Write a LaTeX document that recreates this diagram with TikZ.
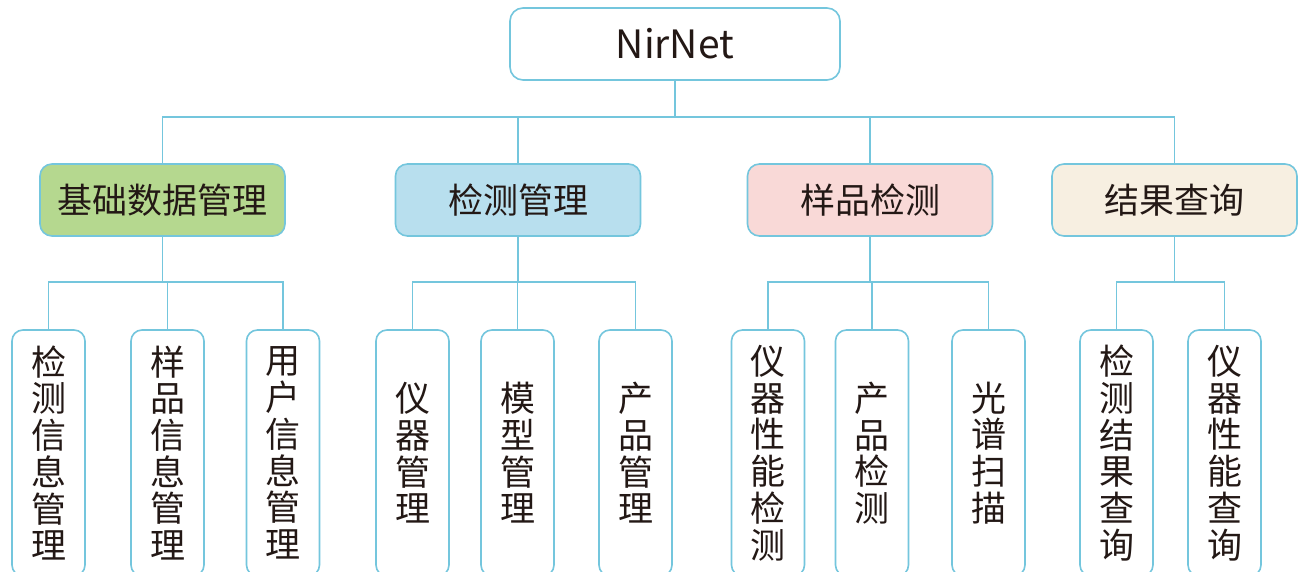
\documentclass[tikz,border=0pt]{standalone}
\usepackage{fontspec}
\newfontfamily\cjk{Noto Sans CJK SC}
\definecolor{lineblue}{HTML}{74C6DD}
\definecolor{fgreen}{HTML}{B5D88F}
\definecolor{fblue}{HTML}{B8DFEE}
\definecolor{fpink}{HTML}{F9D9D7}
\definecolor{fcream}{HTML}{F7EFE1}
\definecolor{ink}{HTML}{231815}
\begin{document}
\begin{tikzpicture}[x=1pt,y=-1pt,
  conn/.style={draw=lineblue,line width=1.6pt},
  rootbox/.style={draw=lineblue,line width=1.6pt,fill=white,rounded corners=13pt,
    minimum width=330pt,minimum height=72pt,inner sep=0pt,text=ink,
    font=\cjk\fontsize{39}{42}\selectfont},
  topbox/.style={draw=lineblue,line width=1.6pt,rounded corners=12pt,
    minimum width=245pt,minimum height=72pt,inner sep=0pt,text=ink,
    font=\cjk\fontsize{35}{38}\selectfont},
  leafbox/.style={draw=lineblue,line width=1.6pt,fill=white,rounded corners=11pt,
    minimum width=73pt,minimum height=246pt,inner sep=0pt,text=ink,align=center,
    font=\cjk\fontsize{35}{36.7}\selectfont}]
\useasboundingbox (0,0) rectangle (1298,571);
\fill[white] (0,0) rectangle (1298,571);
\coordinate (busA) at (0,117);
\coordinate (busB) at (0,282);

\node[rootbox] (root) at (675,44) {NirNet};

\node[topbox,fill=fgreen] (ta) at (162.5,200) {基础数据管理};
\node[topbox,fill=fblue]  (tb) at (518,200) {检测管理};
\node[topbox,fill=fpink]  (tc) at (870,200) {样品检测};
\node[topbox,fill=fcream] (td) at (1174.5,200) {结果查询};

\node[leafbox] (a1) at (48.5,453) {检\\测\\信\\息\\管\\理};
\node[leafbox] (a2) at (167.5,453) {样\\品\\信\\息\\管\\理};
\node[leafbox] (a3) at (283,453) {用\\户\\信\\息\\管\\理};

\node[leafbox] (b1) at (412.5,453) {仪\\器\\管\\理};
\node[leafbox] (b2) at (517.5,453) {模\\型\\管\\理};
\node[leafbox] (b3) at (635.5,453) {产\\品\\管\\理};

\node[leafbox] (c1) at (768,453) {仪\\器\\性\\能\\检\\测};
\node[leafbox] (c2) at (872,453) {产\\品\\检\\测};
\node[leafbox] (c3) at (988.5,453) {光\\谱\\扫\\描};

\node[leafbox] (d1) at (1116.5,453) {检\\测\\结\\果\\查\\询};
\node[leafbox] (d2) at (1224.5,453) {仪\\器\\性\\能\\查\\询};

% level 1 connectors
\draw[conn] (root.south) -- (root.south |- busA);
\foreach \t in {ta,tb,tc,td}
  \draw[conn] (\t.north) |- (root.south |- busA);
% level 2 connectors
\foreach \p/\kids in {ta/{a1,a2,a3},tb/{b1,b2,b3},tc/{c1,c2,c3},td/{d1,d2}}{
  \draw[conn] (\p.south) -- (\p.south |- busB);
  \foreach \k in \kids
    \draw[conn] (\k.north) |- (\p.south |- busB);
}
\end{tikzpicture}
\end{document}
